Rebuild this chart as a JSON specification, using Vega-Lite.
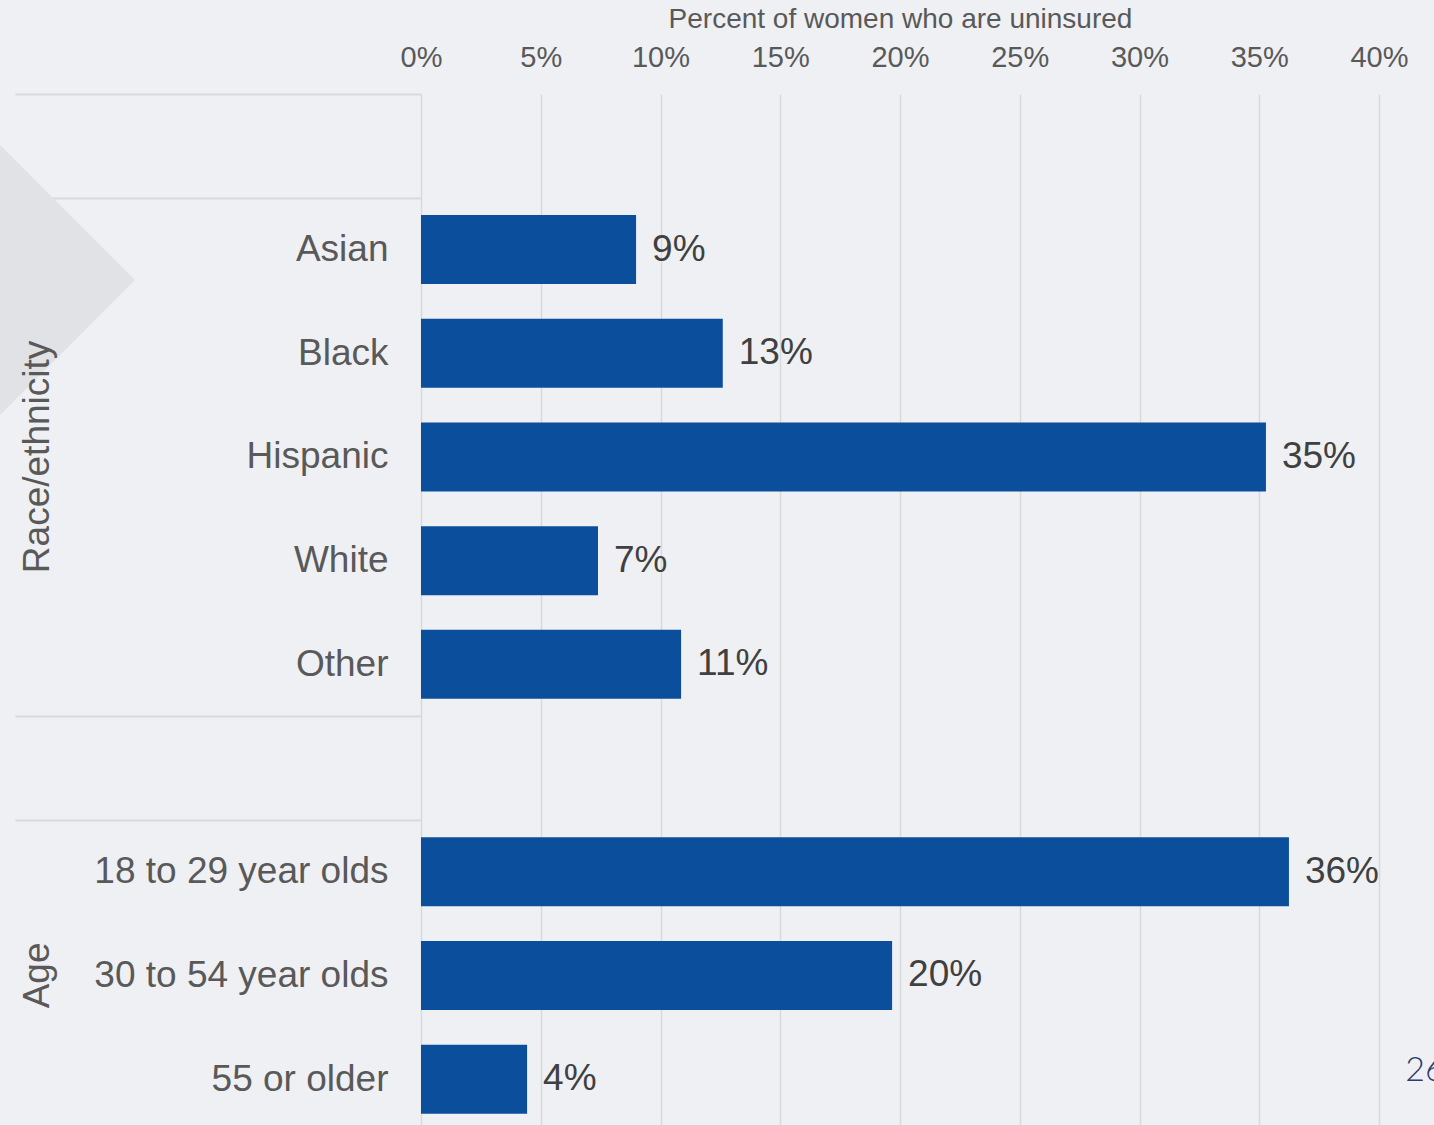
{
  "$schema": "https://vega.github.io/schema/vega-lite/v6.json",
  "width": 958,
  "height": 1037,
  "autosize": {"type": "none"},
  "padding": {"left": 421, "top": 94, "right": 55, "bottom": -6},
  "background": "#eff0f4",
  "config": {"view": {"stroke": null}, "font": "Liberation Sans"},
  "data": {"values": [
    {"cat": "_b1"},
    {"cat": "Asian", "value": 8.98, "label": "9%"},
    {"cat": "Black", "value": 12.6, "label": "13%"},
    {"cat": "Hispanic", "value": 35.28, "label": "35%", "group": "Race/ethnicity"},
    {"cat": "White", "value": 7.39, "label": "7%"},
    {"cat": "Other", "value": 10.86, "label": "11%"},
    {"cat": "_b2"},
    {"cat": "18 to 29 year olds", "value": 36.24, "label": "36%"},
    {"cat": "30 to 54 year olds", "value": 19.67, "label": "20%", "group": "Age"},
    {"cat": "55 or older", "value": 4.43, "label": "4%"}
  ]},
  "encoding": {
    "y": {
      "field": "cat",
      "type": "nominal",
      "sort": null,
      "scale": {
        "domain": ["_b1", "Asian", "Black", "Hispanic", "White", "Other", "_b2", "18 to 29 year olds", "30 to 54 year olds", "55 or older"],
        "paddingInner": 0.335,
        "paddingOuter": 0.1675
      },
      "axis": {
        "title": null,
        "domain": false,
        "ticks": true,
        "tickSize": 406,
        "tickWidth": 2,
        "tickOffset": -51.85,
        "tickColor": {
          "condition": {
            "test": "datum.value === '_b1' || datum.value === 'Asian' || datum.value === '_b2' || datum.value === '18 to 29 year olds'",
            "value": "#d9d9d9"
          },
          "value": "rgba(0,0,0,0)"
        },
        "labelOffset": 51.85,
        "labelPadding": -373,
        "labelFontSize": 37,
        "labelColor": "#595959",
        "labelLimit": 500,
        "labelExpr": "indexof(datum.label, '_b') === 0 ? '' : datum.label"
      }
    }
  },
  "layer": [
    {
      "transform": [{"filter": "datum.cat === 'Asian'"}],
      "mark": {"type": "point", "shape": "diamond", "filled": true, "size": 72900, "color": "#e1e2e6", "opacity": 1, "strokeWidth": 0, "yOffset": 30.5},
      "encoding": {"x": {"datum": -17.58}}
    },
    {
      "transform": [{"filter": "isValid(datum.value)"}],
      "mark": {"type": "bar", "color": "#0b4f9c"},
      "encoding": {
        "x": {
          "field": "value",
          "type": "quantitative",
          "scale": {"domain": [0, 40], "nice": false},
          "axis": {
            "orient": "top",
            "values": [0, 5, 10, 15, 20, 25, 30, 35, 40],
            "labelExpr": "datum.value + '%'",
            "ticks": false,
            "domain": false,
            "grid": true,
            "gridColor": "#d9d9d9",
            "gridWidth": 1.5,
            "labelFontSize": 29,
            "labelColor": "#595959",
            "labelPadding": 22,
            "labelFlush": false,
            "labelOverlap": false,
            "title": "Percent of women who are uninsured",
            "titleFontSize": 28,
            "titleFontWeight": "normal",
            "titleColor": "#595959",
            "titlePadding": 10
          }
        }
      }
    },
    {
      "transform": [{"filter": "isValid(datum.value)"}],
      "mark": {"type": "text", "align": "left", "baseline": "middle", "dx": 16, "fontSize": 37, "color": "#404040"},
      "encoding": {
        "x": {"field": "value", "type": "quantitative"},
        "text": {"field": "label"}
      }
    },
    {
      "transform": [{"filter": "isValid(datum.group)"}],
      "mark": {"type": "text", "angle": 270, "align": "center", "baseline": "middle", "fontSize": 37, "color": "#595959"},
      "encoding": {
        "x": {"datum": -16},
        "text": {"field": "group"}
      }
    },
    {
      "transform": [{"filter": "datum.cat === '55 or older'"}],
      "mark": {"type": "text", "text": "26", "align": "left", "baseline": "middle", "fontSize": 34, "color": "#2e3b6e", "font": "Lato", "fontWeight": 300, "yOffset": -8},
      "encoding": {
        "x": {"datum": 41.1}
      }
    }
  ]
}
